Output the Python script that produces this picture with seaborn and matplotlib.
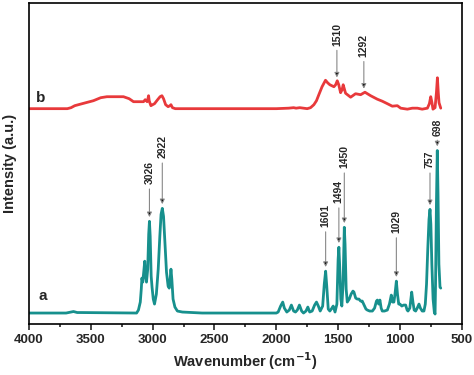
import numpy as np
import pandas as pd
import matplotlib
matplotlib.use("Agg")
import matplotlib.pyplot as plt
import seaborn as sns
from matplotlib.ticker import MultipleLocator

# ================= DATA =================
# trace a (lower, teal) - wavenumber / intensity (a.u.)
wn_a = [4000, 3700, 3660, 3640, 3610, 3580, 3130, 3115, 3100, 3092, 3087, 3080,
        3072, 3064, 3057, 3050, 3040, 3032, 3026, 3020, 3012, 3005, 2995, 2985,
        2970, 2955, 2942, 2932, 2922, 2912, 2900, 2888, 2875, 2866, 2858, 2852,
        2845, 2835, 2820, 2800, 2760, 2600, 2000, 1985, 1965, 1948, 1935, 1915,
        1895, 1878, 1860, 1845, 1830, 1813, 1795, 1780, 1760, 1745, 1730, 1710,
        1690, 1675, 1660, 1645, 1625, 1612, 1601, 1592, 1580, 1567, 1550, 1540,
        1525, 1510, 1500, 1494, 1488, 1478, 1470, 1460, 1450, 1444, 1435, 1426,
        1410, 1395, 1380, 1372, 1358, 1345, 1332, 1318, 1305, 1290, 1275, 1264,
        1245, 1223, 1205, 1190, 1183, 1172, 1162, 1152, 1143, 1125, 1102, 1085,
        1070, 1060, 1049, 1040, 1029, 1020, 1010, 1000, 985, 970, 954, 942, 935,
        920, 905, 895, 885, 873, 860, 846, 835, 820, 806, 795, 785, 775, 765, 757,
        750, 742, 732, 722, 716, 712, 705, 698, 692, 685, 676, 670]
int_a = [11, 11, 12, 12.5, 11.5, 11.5, 11, 14, 22, 35, 46, 42,
         52, 63, 48, 42, 55, 90, 103, 88, 48, 37, 25, 20,
         30, 55, 88, 110, 116, 108, 80, 52, 38, 36, 46, 55,
         45, 25, 17, 13, 12, 11, 11, 12, 18, 22, 16, 12,
         14, 19, 13, 12, 14, 19, 13, 11, 13, 17, 12, 13,
         19, 22, 18, 13, 18, 40, 53, 38, 15, 13, 16, 18,
         12, 20, 65, 77, 60, 25, 18, 40, 97, 80, 35, 22,
         25, 30, 33, 32, 26, 25, 25, 23, 23, 19, 15, 14,
         13, 13, 16, 23, 24, 20, 24, 16, 13, 13, 14, 20,
         29, 22, 22, 30, 43, 30, 20, 20, 18, 19, 19, 14, 13,
         16, 32, 22, 14, 13, 16, 20, 16, 13, 13, 20, 40, 75, 105, 115,
         100, 60, 25, 12, 10, 40, 120, 174, 130, 60, 37, 36]

# trace b (upper, red)
wn_b = [4000, 3690, 3660, 3630, 3600, 3540, 3479, 3420, 3370, 3300, 3236, 3190,
        3155, 3110, 3074, 3060, 3045, 3038, 3033, 3028, 3020, 3014, 3000, 2985,
        2960, 2940, 2925, 2912, 2895, 2875, 2860, 2852, 2840, 2817, 2600, 2000,
        1900, 1860, 1840, 1810, 1780, 1750, 1723, 1696, 1675, 1656, 1630, 1602,
        1585, 1567, 1534, 1520, 1507, 1495, 1480, 1468, 1459, 1450, 1440, 1399,
        1359, 1318, 1283, 1237, 1183, 1143, 1102, 1062, 1021, 994, 940, 900, 859,
        820, 778, 762, 751, 741, 733, 716, 705, 697, 690, 684, 670]
int_b = [216, 216, 217, 219, 220, 222, 224, 227, 228, 228, 228, 226,
         223, 223, 223, 225, 223, 226, 229, 224, 221, 219, 220, 221,
         225, 228, 229, 226, 220, 218, 219, 220, 217, 216, 216, 216,
         216.5, 217, 216.5, 217, 216.5, 216, 217, 220, 224, 230, 238, 244.5,
         242, 240, 238, 240, 244, 240, 232, 235, 240, 236, 231.5, 227.5,
         231, 230, 232.5, 229, 225.5, 223.5, 221, 218.5, 219, 216.5, 215.5, 216.5, 216.5,
         215.5, 216.5, 221, 228, 222, 215.5, 217, 232, 247, 232, 222, 216.5]

# peak labels
peaks_a = [3026, 2922, 1601, 1494, 1450, 1029, 757, 698]
arrow_len_a = [33, 46, 40, 40, 55, 44, 37, 11]   # px, tip to label
peaks_b = [1510, 1292]
arrow_len_b = [32, 32]

TEAL = "#17908d"
RED = "#e8393b"

df_a = pd.DataFrame({"wn": wn_a, "I": int_a})
df_b = pd.DataFrame({"wn": wn_b, "I": int_b})

# ================= PLOT =================
sns.set_style("ticks")
plt.rcParams["font.family"] = ["Liberation Sans", "DejaVu Sans"]
plt.rcParams["font.weight"] = "bold"
plt.rcParams["mathtext.default"] = "bf"

fig = plt.figure(figsize=(4.74, 3.75), dpi=100)
ax = fig.add_axes([0.0612, 0.136, 0.913, 0.856])

sns.lineplot(data=df_a, x="wn", y="I", ax=ax, color=TEAL, lw=2.0, sort=False,
             estimator=None)
sns.lineplot(data=df_b, x="wn", y="I", ax=ax, color=RED, lw=2.0, sort=False,
             estimator=None)

ax.set_xlim(4000, 500)
ax.set_ylim(0, 322)
ax.xaxis.set_major_locator(MultipleLocator(500))
ax.xaxis.set_minor_locator(MultipleLocator(250))
ax.set_yticks([])
ax.tick_params(axis="x", which="major", direction="out", length=4, width=1.2,
               labelsize=9.5)
ax.tick_params(axis="x", which="minor", direction="out", length=2.5, width=1.2)
for lab in ax.get_xticklabels():
    lab.set_fontweight("bold")
for s in ax.spines.values():
    s.set_linewidth(1.2)
    s.set_color("black")

ax.set_xlabel("Wavenumber (cm$^{-1}$)", fontsize=10.5, fontweight="bold",
              labelpad=3)
ax.set_ylabel("Intensity (a.u.)", fontsize=10.5, fontweight="bold", labelpad=9)


def mark(peaks, lens, wn, inten):
    for p, L in zip(peaks, lens):
        y = np.interp(p, wn[::-1], inten[::-1])
        ax.annotate(str(p), xy=(p, y), xytext=(0, (L + 4) * 0.72),
                    textcoords="offset points", rotation=90, ha="center",
                    va="bottom", fontsize=7.5, fontweight="bold",
                    arrowprops=dict(arrowstyle="-|>", edgecolor="#888888",
                                    facecolor="black", lw=0.8,
                                    mutation_scale=7, shrinkA=1, shrinkB=3))


mark(peaks_a, arrow_len_a, np.array(wn_a), np.array(int_a))
mark(peaks_b, arrow_len_b, np.array(wn_b), np.array(int_b))

ax.text(3890, 28, "a", fontsize=11, fontweight="bold", ha="center", va="center")
ax.text(3903, 227, "b", fontsize=11, fontweight="bold", ha="center", va="center")

fig.savefig("out.png", dpi=100)
